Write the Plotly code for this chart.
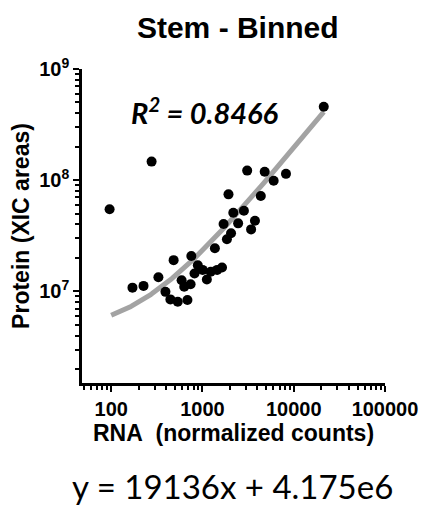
import numpy as np
import plotly.graph_objects as go

# Binned stem data: RNA (normalized counts) vs protein (XIC areas)
rna = [96, 277, 171, 226, 329, 483, 393, 445, 536, 684, 591, 631, 741, 755,
       889, 818, 1004, 1117, 1231, 1368, 1449, 1637, 1703, 1853, 2056, 1928,
       2177, 2459, 2845, 3090, 3411, 3760, 4355, 4806, 6026, 8222, 21330]
protein = [5.47e7, 1.47e8, 1.08e7, 1.12e7, 1.34e7, 1.91e7, 9.9e6, 8.47e6,
           8.06e6, 8.36e6, 1.26e7, 1.10e7, 1.16e7, 2.08e7, 1.72e7, 1.45e7,
           1.56e7, 1.28e7, 1.50e7, 2.44e7, 1.56e7, 1.64e7, 4.03e7, 2.94e7,
           3.33e7, 7.46e7, 5.09e7, 4.09e7, 5.31e7, 1.22e8, 3.61e7, 4.32e7,
           7.20e7, 1.19e8, 9.89e7, 1.14e8, 4.58e8]

# Linear fit reported for this data set
slope = 19136
intercept = 4.175e6
r_squared = 0.8466
fit_x_range = (100, 21330)

x_tick_vals = [100, 1000, 10000, 100000]
x_tick_text = ["100", "1000", "10000", "100000"]
y_tick_vals = [1e7, 1e8, 1e9]
y_tick_text = ["10<sup>7</sup>", "10<sup>8</sup>", "10<sup>9</sup>"]

fit_x = np.logspace(np.log10(fit_x_range[0]), np.log10(fit_x_range[1]), 200)
fit_y = slope * fit_x + intercept

minor_x = [m * 10 ** d for d in range(1, 5) for m in range(2, 10)]
minor_y = [m * 10 ** d for d in range(6, 9) for m in range(2, 10)]

fig = go.Figure()
fig.add_trace(go.Scatter(
    x=fit_x, y=fit_y, mode="lines",
    line=dict(color="#a3a3a3", width=5), hoverinfo="skip", showlegend=False))
fig.add_trace(go.Scatter(
    x=rna, y=protein, mode="markers",
    marker=dict(color="black", size=10), showlegend=False))

sans = "Liberation Sans, Arial, sans-serif"
x_tick_font = dict(family=sans, size=20, color="black", weight="bold")
y_tick_font = dict(family=sans, size=20, color="black", weight="bold")
title_font = dict(family=sans, size=23, color="black")

fig.update_layout(
    width=430, height=506,
    margin=dict(l=82, r=35, t=69, b=123),
    paper_bgcolor="white", plot_bgcolor="white",
    title=dict(text="<b>Stem - Binned</b>", x=0.553, xanchor="center",
               y=1 - 27 / 506, yanchor="middle",
               font=dict(family=sans, size=30, color="black")),
    xaxis=dict(type="log", range=[1.68, 5.0],
               showline=True, linecolor="black", linewidth=2.5,
               showgrid=False, zeroline=False,
               ticks="outside", ticklen=6, tickwidth=2, tickcolor="black",
               tickmode="array", tickvals=x_tick_vals, ticktext=x_tick_text,
               tickfont=x_tick_font,
               minor=dict(ticks="outside", ticklen=4, tickwidth=1.5, tickcolor="black",
                          tickmode="array", tickvals=minor_x, showgrid=False),
               title=dict(text="<b>RNA\u00a0 (normalized counts)</b>", font=title_font, standoff=4)),
    yaxis=dict(type="log", range=[6.176, 9.0],
               showline=True, linecolor="black", linewidth=2.5,
               showgrid=False, zeroline=False,
               ticks="outside", ticklen=6, tickwidth=2, tickcolor="black",
               tickmode="array", tickvals=y_tick_vals, ticktext=y_tick_text,
               tickfont=y_tick_font,
               minor=dict(ticks="outside", ticklen=4, tickwidth=1.5, tickcolor="black",
                          tickmode="array", tickvals=minor_y, showgrid=False),
               title=dict(text="<b>Protein (XIC areas)</b>", font=title_font, standoff=4)),
    annotations=[
        dict(text=f"<b><i>R<sup>2</sup> = {r_squared}</i></b>",
             xref="paper", yref="paper", x=(209 - 82) / 313, y=(383 - 111) / 314,
             xanchor="center", yanchor="middle", showarrow=False,
             font=dict(family="Lato, sans-serif", size=29, color="black")),
        dict(text=f"y = {slope}x + {intercept / 1e6:.3f}e6",
             xref="paper", yref="paper", x=(237 - 82) / 313, y=(383 - 486) / 314,
             xanchor="center", yanchor="middle", showarrow=False,
             font=dict(family="Lato, sans-serif", size=33, color="black")),
    ],
)

fig.write_html("out.html")
